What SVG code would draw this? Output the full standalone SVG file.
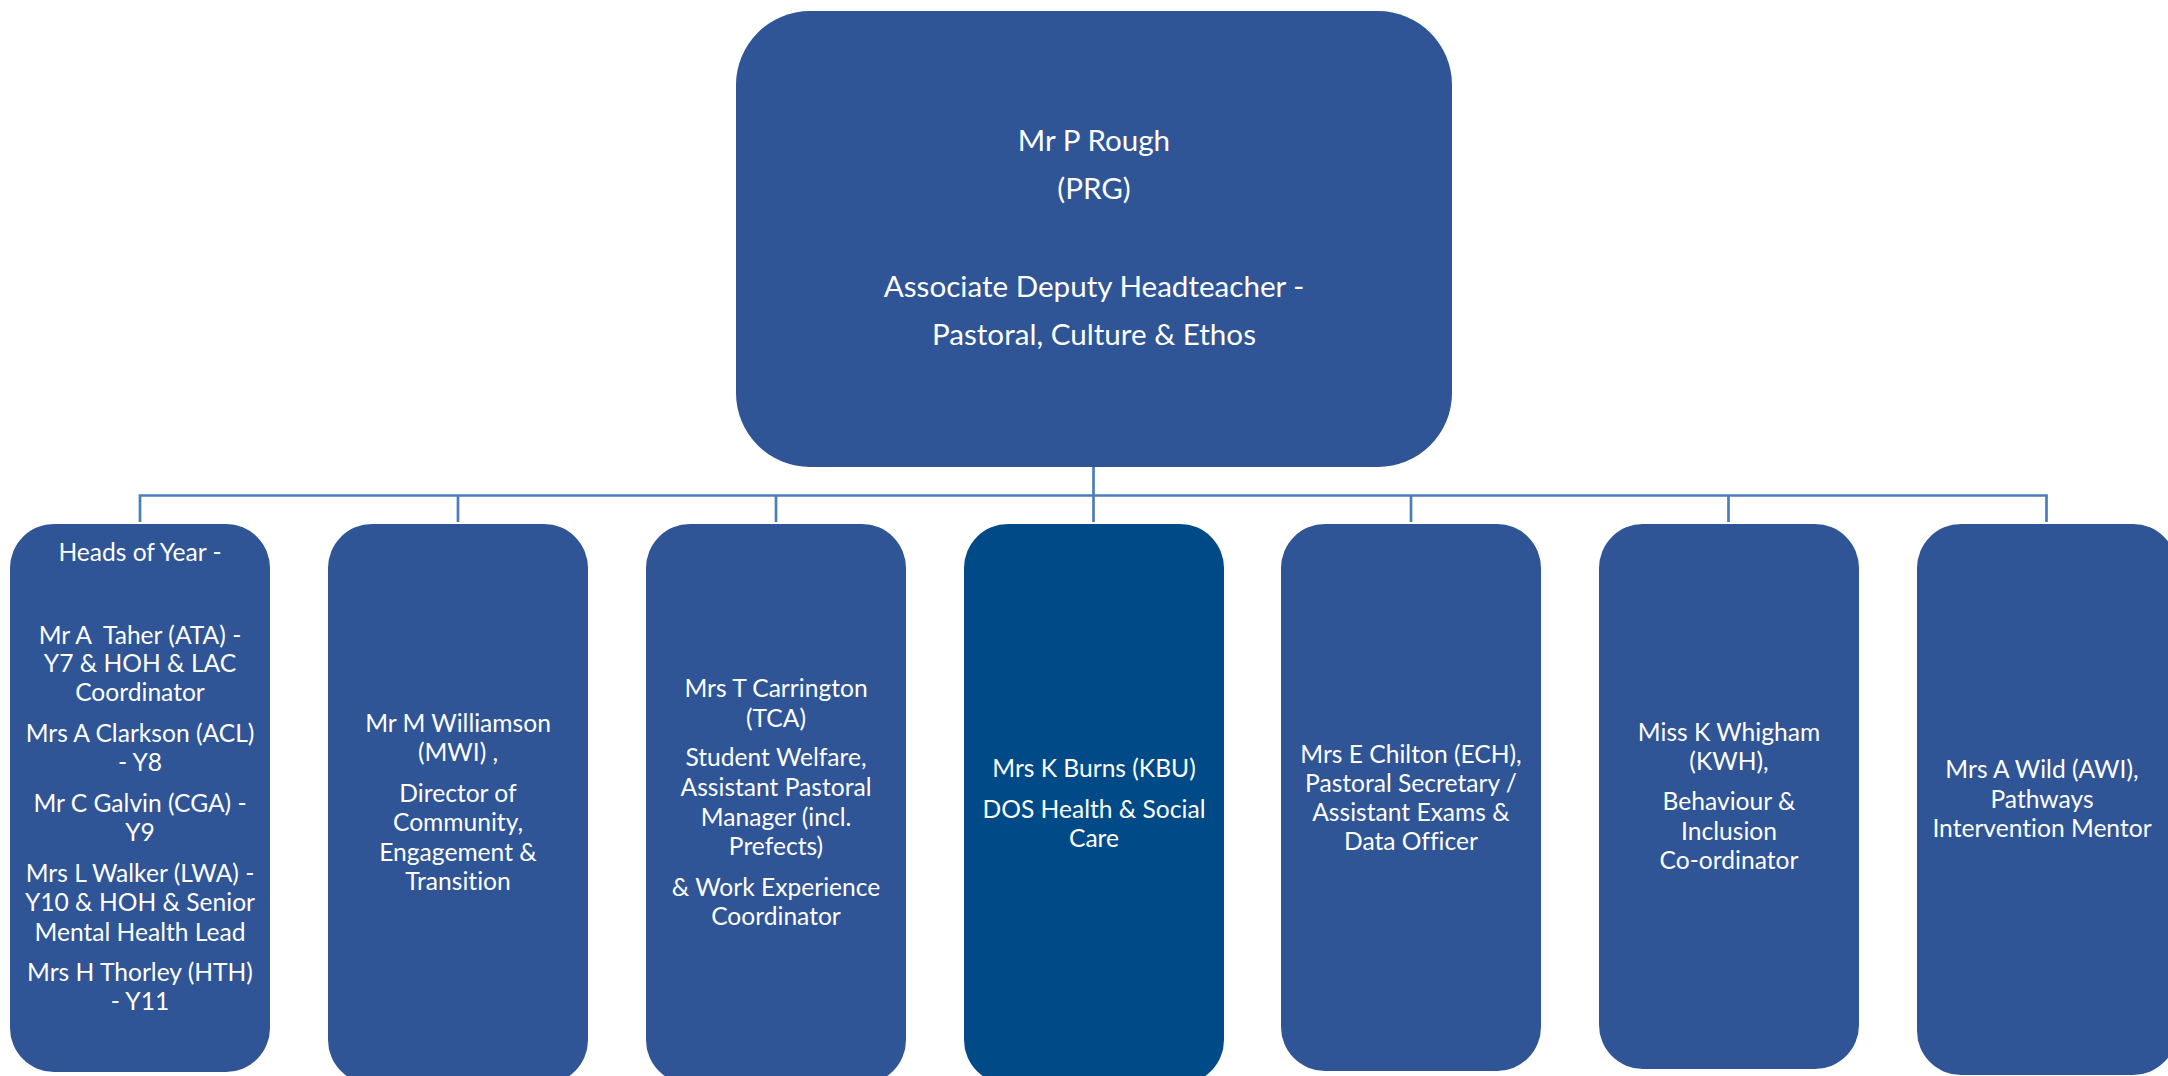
<svg xmlns="http://www.w3.org/2000/svg" width="2168" height="1076" viewBox="0 0 2168 1076">
<style>
.box{fill:#2F5597;}
.dark{fill:#004B87;}
.t{font-family:Lato,"Liberation Sans",sans-serif;fill:#FFFFFF;text-anchor:middle;font-size:24.6px;font-variant-ligatures:none;white-space:pre;}
.tt{font-family:Lato,"Liberation Sans",sans-serif;fill:#FFFFFF;text-anchor:middle;font-size:29.6px;font-variant-ligatures:none;}
.conn{stroke:#4A7EBB;stroke-width:2.7;fill:none;}
</style>
<rect width="2168" height="1076" fill="#FFFFFF"/>
<g id="connectors">
<path class="conn" d="M1093.5 467 V522"/>
<path class="conn" d="M140 522 V495.5 H2046.5 V522"/>
<path class="conn" d="M458 495.5 V522"/>
<path class="conn" d="M776 495.5 V522"/>
<path class="conn" d="M1411 495.5 V522"/>
<path class="conn" d="M1728.5 495.5 V522"/>
</g>
<g id="node-prg">
<rect class="box" x="736" y="11" width="716" height="456" rx="74" ry="74"/>
<text class="tt" x="1094" y="151">Mr P Rough</text>
<text class="tt" x="1094" y="199">(PRG)</text>
<text class="tt" x="1094" y="297">Associate Deputy Headteacher -</text>
<text class="tt" x="1094" y="345">Pastoral, Culture &amp; Ethos</text>
</g>
<g id="node-hoy">
<rect class="box" x="10" y="524" width="260" height="548" rx="44" ry="44"/>
<text class="t" x="140" y="561">Heads of Year -</text>
<text class="t" x="140" y="643.5" xml:space="preserve">Mr A  Taher (ATA) -</text>
<text class="t" x="140" y="672">Y7 &amp; HOH &amp; LAC</text>
<text class="t" x="140" y="701">Coordinator</text>
<text class="t" x="140" y="741.5">Mrs A Clarkson (ACL)</text>
<text class="t" x="140" y="770.5">- Y8</text>
<text class="t" x="140" y="811.5">Mr C Galvin (CGA) -</text>
<text class="t" x="140" y="840.5">Y9</text>
<text class="t" x="140" y="881.5">Mrs L Walker (LWA) -</text>
<text class="t" x="140" y="911">Y10 &amp; HOH &amp; Senior</text>
<text class="t" x="140" y="940.5">Mental Health Lead</text>
<text class="t" x="140" y="981">Mrs H Thorley (HTH)</text>
<text class="t" x="140" y="1010">- Y11</text>
</g>
<g id="node-mwi">
<rect class="box" x="328" y="524" width="260" height="560" rx="44" ry="44"/>
<text class="t" x="458" y="731.5">Mr M Williamson</text>
<text class="t" x="458" y="761">(MWI) ,</text>
<text class="t" x="458" y="802">Director of</text>
<text class="t" x="458" y="831">Community,</text>
<text class="t" x="458" y="860.5">Engagement &amp;</text>
<text class="t" x="458" y="890">Transition</text>
</g>
<g id="node-tca">
<rect class="box" x="646" y="524" width="260" height="560" rx="44" ry="44"/>
<text class="t" x="776" y="696.5">Mrs T Carrington</text>
<text class="t" x="776" y="726.5">(TCA)</text>
<text class="t" x="776" y="766">Student Welfare,</text>
<text class="t" x="776" y="795.5">Assistant Pastoral</text>
<text class="t" x="776" y="825.5">Manager (incl.</text>
<text class="t" x="776" y="854.5">Prefects)</text>
<text class="t" x="776" y="895.5">&amp; Work Experience</text>
<text class="t" x="776" y="925">Coordinator</text>
</g>
<g id="node-kbu">
<rect class="dark" x="964" y="524" width="260" height="560" rx="44" ry="44"/>
<text class="t" x="1094" y="777">Mrs K Burns (KBU)</text>
<text class="t" x="1094" y="818">DOS Health &amp; Social</text>
<text class="t" x="1094" y="847">Care</text>
</g>
<g id="node-ech">
<rect class="box" x="1281" y="524" width="260" height="547" rx="44" ry="44"/>
<text class="t" x="1411" y="762.5">Mrs E Chilton (ECH),</text>
<text class="t" x="1411" y="791.5">Pastoral Secretary /</text>
<text class="t" x="1411" y="820.5">Assistant Exams &amp;</text>
<text class="t" x="1411" y="849.5">Data Officer</text>
</g>
<g id="node-kwh">
<rect class="box" x="1599" y="524" width="260" height="545" rx="44" ry="44"/>
<text class="t" x="1729" y="740.5">Miss K Whigham</text>
<text class="t" x="1729" y="770">(KWH),</text>
<text class="t" x="1729" y="810">Behaviour &amp;</text>
<text class="t" x="1729" y="839.5">Inclusion</text>
<text class="t" x="1729" y="869">Co-ordinator</text>
</g>
<g id="node-awi">
<rect class="box" x="1917" y="524" width="260" height="551" rx="44" ry="44"/>
<text class="t" x="2042" y="778">Mrs A Wild (AWI),</text>
<text class="t" x="2042" y="808">Pathways</text>
<text class="t" x="2042" y="837">Intervention Mentor</text>
</g>
</svg>
